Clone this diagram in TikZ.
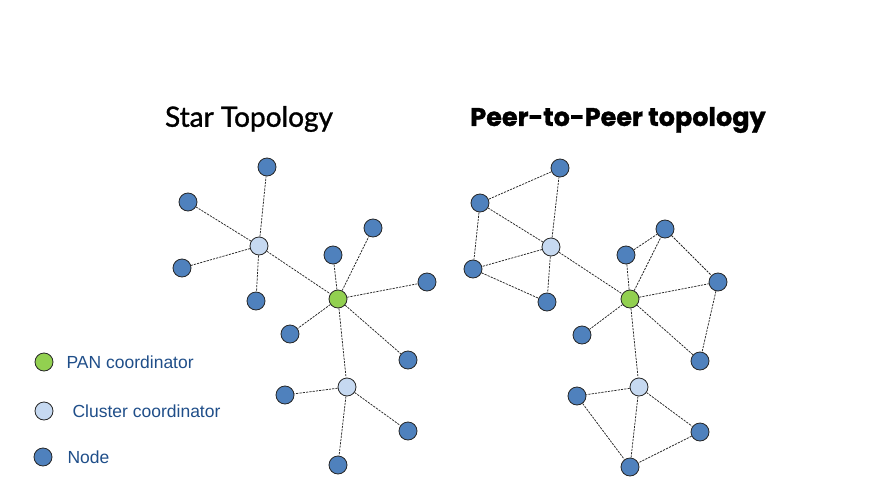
\documentclass[tikz,border=0pt]{standalone}
\usepackage{fontspec}
\setmainfont{Liberation Sans}
\newfontfamily\starfont[FakeBold=1.2]{Lato}
\newfontfamily\peerfont[BoldFeatures={FakeBold=1.2}]{Poppins}
\usepackage{xcolor}
\usetikzlibrary{positioning}
\definecolor{nodeblue}{HTML}{4F81BD}
\definecolor{pangreen}{HTML}{92D050}
\definecolor{clusterblue}{HTML}{C6D9F1}
\definecolor{legendblue}{HTML}{1F4E89}

\begin{document}
\begin{tikzpicture}[
    x=1pt, y=-1pt,
    dev/.style={
        circle,
        draw=black!85,
        line width=0.8pt,
        minimum size=18pt,
        inner sep=0pt
    },
    endnode/.style={dev, fill=nodeblue},
    pan/.style={dev, fill=pangreen},
    cluster/.style={dev, fill=clusterblue},
    link/.style={
        draw=black!85,
        line width=0.75pt,
        dash pattern=on 2.2pt off 1.1pt
    },
    legend/.style={
        font=\fontsize{17.5}{20}\selectfont,
        text=legendblue,
        inner sep=0pt
    }
]
    \useasboundingbox (0,0) rectangle (887,485);

    % titles
    \node (startitle) at (249,119) {\starfont\fontsize{28}{32}\selectfont Star Topology};
    \node (peertitle) at (618,120) {\peerfont\bfseries\fontsize{25.5}{30}\selectfont Peer-to-Peer topology};

    % star topology
    \node [pan] (span) at (338,299) {};
    \node [cluster] (sca) at (259,246) {};
    \node [cluster] (scb) at (347,387) {};
    \node [endnode] (sa1) at (267,167) {};
    \node [endnode] (sa2) at (188,202) {};
    \node [endnode] (sa3) at (182,268) {};
    \node [endnode] (sa4) at (256,301) {};
    \node [endnode] (sp1) at (333,255) {};
    \node [endnode] (sp2) at (373,228) {};
    \node [endnode] (sp3) at (427,282) {};
    \node [endnode] (sp4) at (290,334) {};
    \node [endnode] (sp5) at (408,360) {};
    \node [endnode] (sb1) at (285,395) {};
    \node [endnode] (sb2) at (408,431) {};
    \node [endnode] (sb3) at (338,465) {};

    \draw [link] (sca) -- (sa1);
    \draw [link] (sca) -- (sa2);
    \draw [link] (sca) -- (sa3);
    \draw [link] (sca) -- (sa4);
    \draw [link] (sca) -- (span);
    \draw [link] (span) -- (sp1);
    \draw [link] (span) -- (sp2);
    \draw [link] (span) -- (sp3);
    \draw [link] (span) -- (sp4);
    \draw [link] (span) -- (sp5);
    \draw [link] (span) -- (scb);
    \draw [link] (scb) -- (sb1);
    \draw [link] (scb) -- (sb2);
    \draw [link] (scb) -- (sb3);

    % peer-to-peer topology
    \node [pan] (ppan) at (630,299) {};
    \node [cluster] (pca) at (551,247) {};
    \node [cluster] (pcb) at (639,387) {};
    \node [endnode] (pa1) at (560,168) {};
    \node [endnode] (pa2) at (480,203) {};
    \node [endnode] (pa3) at (473,269) {};
    \node [endnode] (pa4) at (547,302) {};
    \node [endnode] (pp1) at (626,255) {};
    \node [endnode] (pp2) at (665,229) {};
    \node [endnode] (pp3) at (718,282) {};
    \node [endnode] (pp4) at (582,335) {};
    \node [endnode] (pp5) at (700,361) {};
    \node [endnode] (pb1) at (577,396) {};
    \node [endnode] (pb2) at (700,432) {};
    \node [endnode] (pb3) at (630,467) {};

    \draw [link] (pca) -- (pa1);
    \draw [link] (pca) -- (pa2);
    \draw [link] (pca) -- (pa3);
    \draw [link] (pca) -- (pa4);
    \draw [link] (pa1) -- (pa2);
    \draw [link] (pa2) -- (pa3);
    \draw [link] (pa3) -- (pa4);
    \draw [link] (pca) -- (ppan);
    \draw [link] (ppan) -- (pp1);
    \draw [link] (ppan) -- (pp2);
    \draw [link] (ppan) -- (pp3);
    \draw [link] (ppan) -- (pp4);
    \draw [link] (ppan) -- (pp5);
    \draw [link] (pp1) -- (pp2);
    \draw [link] (pp2) -- (pp3);
    \draw [link] (pp3) -- (pp5);
    \draw [link] (ppan) -- (pcb);
    \draw [link] (pcb) -- (pb1);
    \draw [link] (pcb) -- (pb2);
    \draw [link] (pcb) -- (pb3);
    \draw [link] (pb1) -- (pb3);
    \draw [link] (pb2) -- (pb3);

    % legend
    \node [pan] (lpan) at (44,362) {};
    \node [cluster] (lcluster) at (44,411) {};
    \node [endnode] (lnode) at (43,457) {};
    \node [legend, right=13pt of lpan] (tpan) {PAN coordinator};
    \node [legend, right=19pt of lcluster] (tcluster) {Cluster coordinator};
    \node [legend, right=15pt of lnode] (tnode) {Node};

\end{tikzpicture}
\end{document}
